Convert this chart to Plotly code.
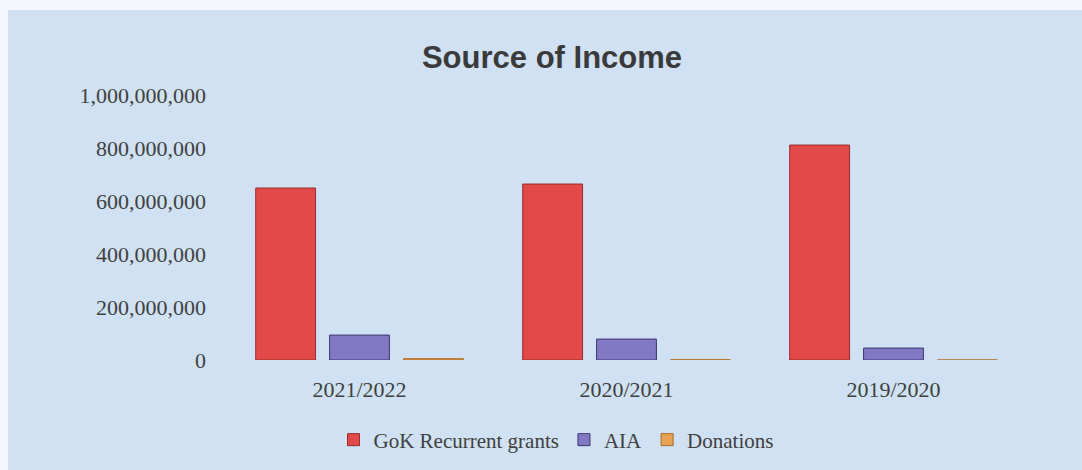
import plotly.graph_objects as go

years = ["2021/2022", "2020/2021", "2019/2020"]
gok_grants = [649_000_000, 664_000_000, 811_000_000]
aia = [94_000_000, 79_000_000, 45_000_000]
donations = [5_000_000, 1_000_000, 0]
y_ticks = [0, 200_000_000, 400_000_000, 600_000_000, 800_000_000, 1_000_000_000]
y_tick_labels = ["0", "200,000,000", "400,000,000", "600,000,000", "800,000,000", "1,000,000,000"]

serif = "Liberation Serif, DejaVu Serif, serif"
txt = "#404040"

W, H = 1082, 470
L, R, T, B = 226, 55, 95, 110
pw, ph = W - L - R, H - T - B

fig = go.Figure()
fig.add_trace(go.Bar(name="GoK Recurrent grants", x=years, y=gok_grants,
                     marker=dict(color="#e24a4a", line=dict(color="#9a2a2a", width=1))))
fig.add_trace(go.Bar(name="AIA", x=years, y=aia,
                     marker=dict(color="#8179c4", line=dict(color="#3c3670", width=1))))
fig.add_trace(go.Bar(name="Donations", x=years, y=donations,
                     marker=dict(color="#e8a254", line=dict(color="#b06a20", width=1))))

# chart-area background (slight white border around it, as in the scan)
fig.add_shape(type="rect", xref="paper", yref="paper", layer="below",
              x0=(8 - L) / pw, x1=(W - L) / pw, y0=(H - T - B - (H - T)) / ph - 0.5, y1=(ph + T - 10) / ph,
              fillcolor="#cfe1f2", line=dict(width=0))

fig.update_layout(
    width=W, height=H,
    paper_bgcolor="#f4f8fc", plot_bgcolor="rgba(0,0,0,0)",
    margin=dict(l=L, r=R, t=T, b=B),
    barmode="group", bargap=0.17, bargroupgap=0.19,
    title=dict(text="Source of Income", x=552 / W, xanchor="center", y=1 - 57 / H, yanchor="middle",
               yref="container",
               font=dict(family="Liberation Sans, Arial, sans-serif", size=31, color="#3a3a3a", weight="bold")),
    xaxis=dict(showgrid=False, showline=False, zeroline=False, ticks="", ticklabelstandoff=14,
               tickfont=dict(family=serif, size=22, color=txt)),
    yaxis=dict(range=[0, 1_000_000_000], tickvals=y_ticks, ticktext=y_tick_labels,
               showgrid=False, zeroline=False, showline=False, ticks="", ticklabelstandoff=19,
               tickfont=dict(family=serif, size=22, color=txt)),
    legend=dict(orientation="h", xref="container", x=556 / W, xanchor="center",
                yref="container", y=1 - 440 / H, yanchor="middle",
                font=dict(family=serif, size=21, color=txt), bgcolor="rgba(0,0,0,0)",
                itemwidth=30, tracegroupgap=0),
    showlegend=True,
)

fig.write_html("out.html")
